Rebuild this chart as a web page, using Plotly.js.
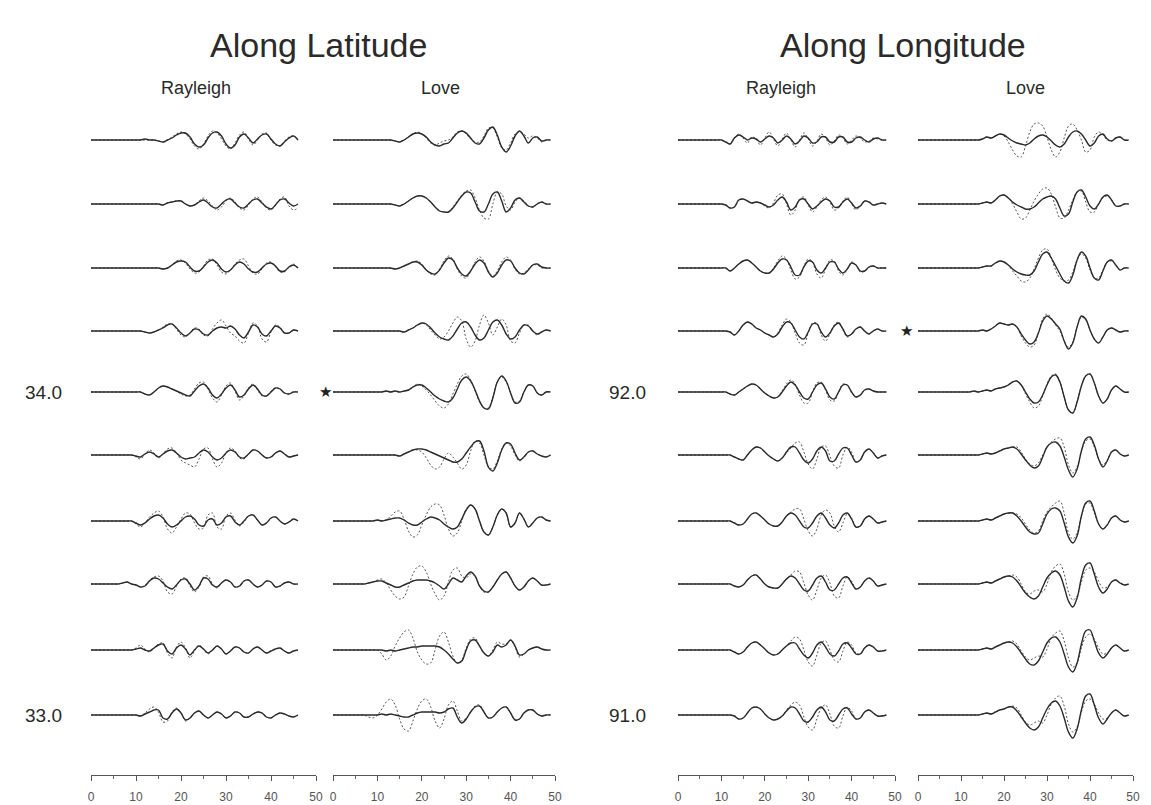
<!DOCTYPE html>
<html><head><meta charset="utf-8">
<script src="https://cdn.plot.ly/plotly-3.0.1.min.js"></script>
<style>html,body{margin:0;padding:0;background:#fff}#chart{width:1151px;height:805px}</style>
</head><body><div id="chart"></div>
<script>
// time axis (s)
const TIME_S = [0,1,2,3,4,5,6,7,8,9,10,11,12,13,14,15,16,17,18,19,20,21,22,23,24,25,26,27,28,29,30,31,32,33,34,35,36,37,38,39,40,41,42,43,44,45,46,47,48,49];

// Along latitude, Rayleigh: solid (observed) and dashed (synthetic), rows top to bottom
const LAT_RAYLEIGH_SOLID = [
[0,0,0,0,0,0,0,0,0,0,0,0,1,0,0,-1,-2,0,2,5,7,7,3,-4,-7,-5,2,7,8,4,-4,-8,-5,3,6,2,-3,1,5,6,1,-4,-6,-2,2,4,0],
[0,0,0,0,0,0,0,0,0,0,0,0,0,0,0,0,-1,1,2,3,3,0,-2,-1,2,4,1,-3,-4,0,4,5,1,-3,-4,0,4,5,1,-3,-5,-1,4,5,1,-2,0],
[0,0,0,0,0,0,0,0,0,0,0,0,0,0,0,0,-1,0,3,6,7,6,1,-3,-3,1,6,8,5,-1,-4,-2,3,6,4,-1,-4,-4,0,4,5,2,-3,-3,1,3,0],
[0,0,0,0,0,0,0,0,0,0,0,0,-1,-2,-1,1,3,6,7,3,-2,-5,-2,2,1,-3,-4,0,3,4,3,5,2,-4,-7,-1,6,4,-3,-5,0,5,3,-2,-2,1,0],
[0,0,0,0,0,0,0,0,0,0,0,0,-2,-3,0,4,6,5,3,1,-1,-3,-4,1,6,8,4,-3,-6,-2,4,7,2,-5,-3,3,7,3,-3,-4,0,4,3,-1,-2,0,0],
[0,0,0,0,0,0,0,0,0,0,-1,-2,1,3,1,-2,1,4,5,2,-2,-4,-3,-2,2,5,3,-2,-5,-3,2,5,3,-2,-3,1,5,4,0,-3,-2,2,4,1,-2,-1,0],
[0,0,0,0,0,0,0,0,0,0,-2,-4,-2,2,5,6,3,-3,-6,-4,0,4,5,2,-4,-5,1,2,-4,-2,4,5,-1,-4,0,5,6,1,-4,-2,3,4,0,-3,-1,2,0],
[0,0,0,0,0,0,0,1,2,0,-1,-3,-2,3,6,5,1,-3,-5,-1,4,5,0,-6,-2,6,5,-1,-3,1,4,2,-3,-2,3,4,0,-3,-1,3,2,-3,-2,1,2,0,0],
[0,0,0,0,0,0,0,0,0,0,1,2,0,-1,2,5,6,-1,-4,2,5,1,-5,0,4,1,-3,0,4,1,-4,-1,3,2,-2,-3,1,3,0,-3,-1,1,2,-1,-3,-1,0],
[0,0,0,0,0,0,0,0,0,0,0,-1,1,3,5,5,-3,-4,2,6,2,-5,-3,2,4,0,-3,0,3,1,-3,-1,3,2,-2,-2,1,3,2,-2,-3,0,2,1,-1,-2,0]
];
const LAT_RAYLEIGH_DASHED = [
[0,0,0,0,0,0,0,0,0,0,0,0,0,0,0,-1,-2,0,3,6,8,6,1,-6,-9,-4,4,9,7,1,-6,-9,-3,5,8,1,-5,0,6,7,0,-5,-6,-1,3,4,0],
[0,0,0,0,0,0,0,0,0,0,0,0,0,0,0,0,-1,1,2,3,3,0,-2,-1,3,6,3,-2,-6,-3,3,6,2,-4,-6,-1,5,7,2,-4,-6,-1,5,7,-2,-6,-4],
[0,0,0,0,0,0,0,0,0,0,0,0,0,0,0,0,-1,0,3,7,8,5,-1,-5,-4,2,8,9,3,-4,-6,-2,4,8,9,2,-5,-6,-1,5,6,1,-4,-4,1,4,0],
[0,0,0,0,0,0,0,0,0,0,0,0,-1,-2,-1,1,4,7,7,2,-4,-6,-2,3,2,-4,-5,2,8,11,5,-2,-5,-10,-12,-2,8,5,-8,-11,-1,6,4,-2,-2,1,0],
[0,0,0,0,0,0,0,0,0,0,0,0,-2,-3,0,4,6,5,3,1,-2,-4,-3,3,9,10,3,-6,-10,-3,6,9,1,-8,-4,4,8,2,-4,-4,1,4,3,-1,-2,0,0],
[0,0,0,0,0,0,0,0,0,0,-2,-4,1,5,2,-3,1,6,7,2,-5,-8,-10,-12,-4,6,7,-4,-12,-8,2,7,4,-3,-4,1,5,4,0,-3,-2,2,4,1,-2,-1,0],
[0,0,0,0,0,0,0,0,0,0,-3,-6,-2,4,8,10,4,-8,-12,-6,2,8,7,-2,-8,-7,6,8,-6,-8,5,8,1,-5,-1,5,6,1,-4,-2,3,4,0,-3,-1,2,0],
[0,0,0,0,0,0,0,1,2,0,-1,-3,-1,4,7,8,3,-8,-10,-2,5,6,-2,-8,-3,7,8,0,-4,1,4,2,-3,-2,3,4,0,-3,-1,3,2,-3,-2,1,2,0,0],
[0,0,0,0,0,0,0,0,0,0,2,5,1,-2,2,6,7,-3,-8,3,8,2,-8,-1,5,1,-4,0,4,1,-4,-1,3,2,-2,-3,1,3,0,-3,-1,1,2,-1,-3,-1,0],
[0,0,0,0,0,0,0,0,0,0,0,-1,2,6,8,3,-7,-6,3,7,2,-6,-3,2,4,0,-3,0,3,1,-3,-1,3,2,-2,-2,1,3,2,-2,-3,0,2,1,-1,-2,0]
];

// Along latitude, Love
const LAT_LOVE_SOLID = [
[0,0,0,0,0,0,0,0,0,0,0,0,0,0,-1,-2,0,3,6,7,6,3,-2,-5,-6,-4,-3,2,7,9,7,2,-3,-4,2,10,13,5,-7,-12,-6,4,9,4,-3,2,3,-1,0,0],
[0,0,0,0,0,0,0,0,0,0,0,0,0,0,-1,-2,0,3,6,8,8,6,2,-3,-7,-8,-8,-4,2,8,12,11,2,-7,-8,0,10,12,3,-8,-4,4,6,2,-2,-3,0,2,0,0],
[0,0,0,0,0,0,0,0,0,0,0,0,0,0,-1,0,2,4,6,6,3,-2,-5,-6,-2,5,10,8,0,-6,-8,-3,4,8,5,-4,-9,-5,3,8,7,0,-5,-6,-2,3,4,1,0,0],
[0,0,0,0,0,0,0,0,0,0,0,0,0,0,0,0,-1,1,3,6,8,7,3,-2,-6,-8,-9,-5,2,8,9,4,-4,-9,-7,1,9,11,6,-3,-8,-6,1,6,5,0,-3,-1,1,0],
[0,0,0,0,0,0,0,0,0,0,0,0,1,0,1,0,1,2,5,7,7,4,0,-4,-7,-9,-10,-6,3,12,15,11,2,-9,-16,-17,-6,10,16,11,-1,-11,-10,0,7,6,-1,-3,0,0],
[0,0,0,0,0,0,0,0,0,0,0,0,0,0,0,-1,1,3,5,6,6,5,3,1,-1,-3,-5,-7,-7,-4,2,8,13,14,4,-12,-16,-8,5,12,11,2,-5,-2,3,4,1,-1,-2,0],
[0,0,0,0,0,0,0,0,0,0,1,0,1,2,3,3,1,-2,-4,-4,-1,2,4,3,1,-3,-6,-8,-6,2,11,16,12,0,-11,-14,-6,6,12,8,-6,-2,8,2,-6,-2,3,4,1,0],
[0,0,0,0,0,0,0,0,1,2,3,3,1,-1,-3,-3,-1,1,3,4,4,4,3,1,-2,-5,0,6,4,2,8,12,8,-2,-7,-8,-3,4,10,12,6,-2,-6,-3,3,6,3,-1,-1,0],
[0,0,0,0,0,0,0,0,0,0,0,0,-1,0,-1,0,1,2,3,3,4,4,4,4,3,0,-4,-9,-13,-11,0,9,10,4,-3,-6,-2,5,3,5,10,4,-5,-4,0,2,3,1,0,0],
[0,0,0,0,0,0,0,0,0,0,0,1,0,1,0,-1,-2,-2,0,2,3,3,3,3,2,3,6,7,-2,-8,-4,3,8,9,3,-3,-2,3,7,8,2,-5,-4,2,5,5,1,-1,0,0]
];
const LAT_LOVE_DASHED = [
[0,0,0,0,0,0,0,0,0,0,0,0,0,0,-1,-2,0,3,6,8,6,2,-3,-5,-3,-1,0,3,8,9,6,1,-2,-2,4,12,12,3,-8,-10,-3,6,8,6,2,4,2,-2,0,0],
[0,0,0,0,0,0,0,0,0,0,0,0,0,0,-1,-2,0,3,6,8,8,6,2,-3,-7,-8,-8,-3,3,9,13,14,6,-6,-14,-15,0,12,10,-2,-6,2,6,3,-2,-3,0,2,0,0],
[0,0,0,0,0,0,0,0,0,0,0,0,0,0,-1,0,2,4,6,7,4,-2,-6,-7,-1,7,12,9,-1,-8,-10,-3,6,11,7,-3,-8,-3,6,11,8,-1,-6,-5,-1,3,3,0,0,0],
[0,0,0,0,0,0,0,0,0,0,0,0,0,0,0,0,-1,1,3,6,8,6,1,-4,-8,-6,0,8,14,10,-8,-16,-10,6,16,8,-4,4,12,6,-10,-12,-2,6,6,0,-4,-1,1,0],
[0,0,0,0,0,0,0,0,0,0,0,0,1,0,1,0,1,2,5,8,6,2,-3,-9,-14,-16,-12,-2,8,16,18,12,1,-10,-16,-16,-5,10,15,10,-1,-10,-9,0,7,6,-1,-3,0,0],
[0,0,0,0,0,0,0,0,0,0,0,0,0,0,0,-1,1,3,5,5,3,-3,-10,-14,-12,-4,2,-2,-8,-14,-10,4,14,12,0,-12,-14,-6,6,12,9,0,-6,-2,3,4,1,-1,-2,0],
[0,0,0,0,0,0,0,0,0,0,1,0,1,5,9,10,2,-10,-16,-14,-4,6,14,17,16,6,-8,-15,-12,0,12,16,12,0,-11,-14,-6,6,12,8,-6,-2,8,2,-6,-2,3,4,1,0],
[0,0,0,0,0,0,0,0,1,2,4,5,1,-6,-12,-15,-13,-2,10,17,18,12,0,-10,-16,-12,2,14,16,8,6,10,8,-2,-8,-8,-3,4,10,12,6,-2,-6,-3,3,6,3,-1,-1,0],
[0,0,0,0,0,0,0,0,0,0,0,-4,-10,-6,4,12,18,20,12,-2,-10,-14,-13,0,14,18,8,-6,-13,-10,2,11,12,4,-3,-6,0,8,6,6,10,3,-7,-4,0,2,3,1,0,0],
[0,0,0,0,0,0,0,0,-2,-3,0,6,13,16,10,-4,-14,-16,-6,6,14,16,8,-6,-13,-4,10,14,4,-6,-3,3,9,10,3,-3,-2,3,7,8,2,-5,-4,2,5,5,1,-1,0,0]
];

// Along longitude, Rayleigh
const LON_RAYLEIGH_SOLID = [
[0,0,0,0,0,0,0,0,0,0,0,-2,-4,2,5,3,0,2,1,-2,1,4,2,-3,0,4,1,-4,-1,4,2,-3,-2,3,3,-2,-2,3,3,-2,-2,2,3,0,-2,1,2,0,0],
[0,0,0,0,0,0,0,0,0,0,0,-1,-4,-3,4,5,3,1,2,1,-1,-3,-1,4,7,2,-6,-3,4,5,0,-5,-2,2,5,3,-3,-3,2,5,1,-4,-2,3,2,-1,0,1,0],
[0,0,0,0,0,0,0,0,0,0,0,0,-3,0,4,7,8,5,1,-3,-5,-5,-1,5,9,8,1,-7,-7,1,7,6,-2,-5,0,6,6,-1,-5,-1,5,3,-3,-3,1,2,0,0,0],
[0,0,0,0,0,0,0,0,0,0,0,0,-1,-4,0,6,9,7,3,1,-2,-4,-6,-3,4,9,8,1,-6,-8,-1,7,7,-1,-6,-2,5,8,2,-5,-3,2,4,0,-3,0,2,0,0],
[0,0,0,0,0,0,0,0,0,0,0,0,-2,-3,0,3,6,8,7,3,-1,-4,-6,-5,0,6,10,7,0,-6,-7,0,7,9,3,-5,-7,0,7,7,0,-5,-3,2,3,1,0,0,0],
[0,0,0,0,0,0,0,0,0,0,0,0,0,-2,-4,-5,0,5,8,7,3,-1,-4,-6,-3,3,8,8,2,-5,-8,-4,4,8,4,-6,-6,1,7,7,0,-7,-5,3,6,2,-3,-1,0],
[0,0,0,0,0,0,0,0,0,0,0,0,0,-2,-4,-3,2,7,8,5,1,-3,-5,-5,-1,5,8,6,0,-6,-7,-2,5,8,3,-4,-7,-2,6,8,2,-6,-5,2,5,2,-2,-1,0],
[0,0,0,0,0,0,0,0,0,0,0,0,0,-2,-3,-1,4,8,9,5,0,-3,-4,-4,0,5,8,6,0,-6,-7,-1,6,8,2,-6,-6,0,6,7,1,-5,-3,3,6,3,-2,-1,0],
[0,0,0,0,0,0,0,0,0,0,0,0,0,-2,-4,-2,3,7,8,5,1,-3,-5,-4,0,4,7,7,1,-5,-8,-3,5,8,3,-4,-6,-1,6,7,2,-4,-4,2,5,3,-1,-1,0],
[0,0,0,0,0,0,0,0,0,0,0,0,0,-1,-4,-3,2,7,8,6,1,-3,-5,-4,-1,4,8,7,1,-6,-7,-2,5,8,3,-5,-6,0,6,7,1,-4,-3,3,5,2,-1,-1,0]
];
const LON_RAYLEIGH_DASHED = [
[0,0,0,0,0,0,0,0,0,0,0,-2,-4,2,6,2,-3,3,1,-5,2,8,1,-6,1,7,0,-7,0,7,1,-6,-1,6,2,-5,-1,5,2,-4,0,4,2,-2,-1,2,1,0,0],
[0,0,0,0,0,0,0,0,0,0,0,-1,-4,-3,4,5,3,1,2,1,-2,-4,1,9,10,0,-11,-6,5,7,-1,-8,-3,4,7,2,-6,-4,3,7,0,-6,-2,3,2,-1,0,1,0],
[0,0,0,0,0,0,0,0,0,0,0,0,-3,0,4,7,8,5,1,-3,-5,-5,0,7,12,9,-2,-11,-9,2,9,6,-6,-10,-1,8,7,-3,-7,-1,6,3,-4,-3,1,2,0,0,0],
[0,0,0,0,0,0,0,0,0,0,0,0,-1,-4,0,6,9,7,3,1,-2,-4,-6,-2,6,12,9,-2,-12,-14,-2,8,8,-4,-10,-3,6,9,1,-6,-3,2,4,0,-3,0,2,0,0],
[0,0,0,0,0,0,0,0,0,0,0,0,-2,-3,0,3,6,8,7,3,-1,-4,-6,-5,1,8,12,8,-3,-11,-11,0,9,10,2,-8,-9,0,8,7,-1,-5,-3,2,3,1,0,0,0],
[0,0,0,0,0,0,0,0,0,0,0,0,0,-2,-4,-5,0,5,8,7,3,-1,-4,-6,-3,2,7,12,13,3,-9,-14,-4,8,9,-1,-11,-13,0,8,3,-7,-5,3,6,2,-3,-1,0],
[0,0,0,0,0,0,0,0,0,0,0,0,0,-2,-4,-3,2,7,8,5,1,-3,-5,-5,-1,5,9,12,12,2,-10,-15,-8,6,11,8,-5,-11,-2,7,3,-6,-5,2,5,2,-2,-1,0],
[0,0,0,0,0,0,0,0,0,0,0,0,0,-2,-3,-1,4,8,9,5,0,-3,-4,-4,0,5,9,13,12,1,-11,-16,-6,6,9,1,-12,-14,-2,7,3,-5,-3,3,6,3,-2,-1,0],
[0,0,0,0,0,0,0,0,0,0,0,0,0,-2,-4,-2,3,7,8,5,1,-3,-5,-4,0,4,9,13,11,0,-12,-16,-5,7,9,0,-10,-12,-1,8,5,-3,-4,2,5,3,-1,-1,0],
[0,0,0,0,0,0,0,0,0,0,0,0,0,-1,-4,-3,2,7,8,6,1,-3,-5,-4,-1,5,10,13,10,-2,-12,-15,-4,7,10,1,-11,-13,-1,8,4,-4,-3,3,5,2,-1,-1,0]
];

// Along longitude, Love
const LON_LOVE_SOLID = [
[0,0,0,0,0,0,0,0,0,0,0,0,0,0,0,1,3,2,4,6,5,2,-1,-3,-4,-5,-3,1,4,5,3,-1,-5,-7,-4,3,8,9,6,0,-6,-3,4,6,1,-1,2,3,0,0],
[0,0,0,0,0,0,0,0,0,0,0,0,0,0,0,1,2,1,4,8,9,6,2,-1,-3,-5,-5,-3,1,5,7,8,5,-4,-12,-10,2,12,14,7,-2,-5,0,7,9,4,-2,-2,0,0],
[0,0,0,0,0,0,0,0,0,0,0,0,0,0,0,1,2,2,5,7,6,3,-1,-4,-6,-7,-7,-3,6,14,16,10,2,-6,-13,-15,-7,8,16,12,0,-10,-12,-3,6,8,3,-2,0,0],
[0,0,0,0,0,0,0,0,0,0,0,0,0,0,0,1,0,2,5,8,7,6,7,4,-3,-9,-13,-11,-2,10,15,12,7,2,-10,-18,-12,4,15,12,1,-8,-12,-6,1,3,1,-1,0,0],
[0,0,0,0,0,0,0,0,0,0,0,0,0,1,0,1,2,1,3,4,5,7,10,11,7,0,-7,-11,-10,-3,7,15,17,10,-5,-18,-21,-10,6,16,18,9,-4,-11,-7,2,6,3,0,0],
[0,0,0,0,0,0,0,0,0,0,0,0,0,0,0,1,2,1,2,4,6,7,8,6,1,-5,-10,-13,-11,-2,8,12,13,9,-2,-15,-22,-14,4,16,18,10,-4,-12,-6,3,5,1,-1,0],
[0,0,0,0,0,0,0,0,0,0,0,0,0,0,0,1,2,1,3,5,7,8,8,5,0,-6,-11,-13,-12,-3,7,12,13,10,-2,-16,-22,-15,5,18,20,10,-3,-8,-4,3,5,1,-1,0],
[0,0,0,0,0,0,0,0,0,0,0,0,0,0,0,1,2,1,3,5,7,8,7,3,-3,-9,-13,-15,-12,-3,6,11,13,9,-3,-17,-23,-14,6,19,21,10,-3,-9,-5,2,4,1,-1,0],
[0,0,0,0,0,0,0,0,0,0,0,0,0,0,0,1,2,1,3,5,7,8,7,3,-3,-9,-14,-15,-11,-2,7,12,13,8,-4,-17,-22,-13,6,19,20,9,-3,-8,-4,2,5,2,-1,0],
[0,0,0,0,0,0,0,0,0,0,0,0,0,0,0,1,2,1,3,5,6,8,8,4,-2,-8,-13,-15,-12,-3,6,12,14,9,-3,-17,-23,-14,5,19,21,10,-3,-9,-4,2,5,2,-1,0]
];
const LON_LOVE_DASHED = [
[0,0,0,0,0,0,0,0,0,0,0,0,0,0,0,1,3,2,4,6,4,-2,-10,-16,-17,-6,8,16,17,14,3,-10,-17,-12,2,14,16,10,0,-12,-10,3,8,5,0,-1,2,3,0,0],
[0,0,0,0,0,0,0,0,0,0,0,0,0,0,0,1,2,1,4,8,9,6,0,-8,-15,-14,-6,3,10,15,16,10,-3,-14,-14,-6,4,12,13,2,-8,-8,0,6,8,4,-2,-2,0,0],
[0,0,0,0,0,0,0,0,0,0,0,0,0,0,0,1,2,2,5,7,6,3,-3,-8,-13,-14,-10,-1,10,18,19,10,-2,-10,-13,-12,-4,8,14,10,-2,-10,-10,-2,6,7,3,-2,0,0],
[0,0,0,0,0,0,0,0,0,0,0,0,0,0,0,1,0,2,5,8,7,6,7,4,-5,-12,-16,-14,-2,12,17,13,6,0,-10,-16,-11,4,14,11,1,-8,-12,-6,1,3,1,-1,0,0],
[0,0,0,0,0,0,0,0,0,0,0,0,0,1,0,1,2,1,3,4,5,7,10,11,7,-2,-10,-16,-14,-4,8,16,18,10,-5,-18,-21,-10,6,16,18,9,-4,-11,-7,2,6,3,0,0],
[0,0,0,0,0,0,0,0,0,0,0,0,0,0,0,1,2,1,2,4,6,7,8,8,3,-4,-9,-11,-8,0,8,13,16,17,8,-10,-18,-12,4,14,16,8,-4,-10,-5,3,5,1,-1,0],
[0,0,0,0,0,0,0,0,0,0,0,0,0,0,0,1,2,1,3,5,7,8,8,7,3,-3,-9,-12,-10,0,9,14,18,20,8,-12,-18,-12,5,17,18,8,-3,-8,-4,3,5,1,-1,0],
[0,0,0,0,0,0,0,0,0,0,0,0,0,0,0,1,2,1,3,5,7,8,9,7,0,-8,-10,-7,-6,-8,0,12,18,20,10,-8,-16,-12,2,14,16,12,3,-4,-3,2,4,1,-1,0],
[0,0,0,0,0,0,0,0,0,0,0,0,0,0,0,1,2,1,3,5,7,8,9,6,-1,-7,-10,-8,-6,-7,1,12,17,19,9,-8,-17,-13,2,13,16,11,2,-4,-3,2,5,2,-1,0],
[0,0,0,0,0,0,0,0,0,0,0,0,0,0,0,1,2,1,3,5,6,8,9,7,0,-7,-10,-8,-6,-8,0,11,17,19,9,-9,-17,-12,3,14,16,11,2,-4,-3,2,5,2,-1,0]
];

const X_TICKS = [0,10,20,30,40,50];
const GROUP_TITLES = ['Along Latitude','Along Longitude'];
const WAVE_TYPES = ['Rayleigh','Love','Rayleigh','Love'];
const ROW_LABELS_LAT = ['34.0','33.0'];
const ROW_LABELS_LON = ['92.0','91.0'];

// ---------- layout (pixel geometry) ----------
const W = 1151, H = 805;
const ROW_Y = [140,204,268,331,392,455,521,584,650,715];
const HALF = 32;
const PANELS = [
  {solid: LAT_RAYLEIGH_SOLID, dashed: LAT_RAYLEIGH_DASHED, x0: 91,  x1: 316},
  {solid: LAT_LOVE_SOLID,     dashed: LAT_LOVE_DASHED,     x0: 333, x1: 555},
  {solid: LON_RAYLEIGH_SOLID, dashed: LON_RAYLEIGH_DASHED, x0: 678, x1: 895},
  {solid: LON_LOVE_SOLID,     dashed: LON_LOVE_DASHED,     x0: 918, x1: 1133}
];
const AXIS_Y = 775;
const FONT = 'Liberation Sans, Arial, Helvetica, sans-serif';
const px = v => v / W;
const py = v => 1 - v / H;

const traces = [];
const layout = {
  width: W, height: H,
  margin: {l: 0, r: 0, t: 0, b: 0},
  paper_bgcolor: '#ffffff', plot_bgcolor: 'rgba(0,0,0,0)',
  showlegend: false,
  annotations: [],
  font: {family: FONT, color: '#333'}
};

PANELS.forEach((p, c) => {
  const xname = c === 0 ? 'x' : 'x' + (c + 1);
  const xkey = c === 0 ? 'xaxis' : 'xaxis' + (c + 1);
  layout[xkey] = {
    domain: [px(p.x0), px(p.x1)], range: [0, 50],
    anchor: 'free', position: py(AXIS_Y),
    showline: true, linecolor: '#555', linewidth: 1,
    ticks: 'outside', ticklen: 5, tickwidth: 1, tickcolor: '#555',
    tickvals: X_TICKS, ticktext: X_TICKS.map(String),
    ticklabelstandoff: 6,
    minor: {dtick: 5, ticks: 'outside', ticklen: 3, tickcolor: '#666', tickwidth: 1},
    tickfont: {family: FONT, size: 12, color: '#555'},
    showgrid: false, zeroline: false, fixedrange: true
  };
  for (let r = 0; r < 10; r++) {
    const yname = r === 0 ? 'y' : 'y' + (r + 1);
    const s = p.solid[r], d = p.dashed[r];
    traces.push({x: TIME_S.slice(0, d.length), y: d, xaxis: xname, yaxis: yname, type: 'scatter', mode: 'lines',
      line: {color: '#555', width: 1, dash: '2px,2px', shape: 'spline', smoothing: 1}, hoverinfo: 'skip'});
    traces.push({x: TIME_S.slice(0, s.length), y: s, xaxis: xname, yaxis: yname, type: 'scatter', mode: 'lines',
      line: {color: '#2a2a2a', width: 1.4, shape: 'spline', smoothing: 1}, hoverinfo: 'skip'});
  }
});
ROW_Y.forEach((y, r) => {
  const ykey = r === 0 ? 'yaxis' : 'yaxis' + (r + 1);
  layout[ykey] = {domain: [py(y + HALF), py(y - HALF)], range: [-HALF, HALF], visible: false, fixedrange: true, anchor: 'x'};
});

const ann = (text, x, y, size, extra) => Object.assign({text, x: px(x), y: py(y), xref: 'paper', yref: 'paper',
  xanchor: 'center', yanchor: 'middle', showarrow: false, font: {family: FONT, size, color: '#2a2a2a'}}, extra || {});
layout.annotations.push(ann(GROUP_TITLES[0], 318, 45, 34));
layout.annotations.push(ann(GROUP_TITLES[1], 903, 45, 34));
[196, 440, 781, 1025].forEach((x, i) => layout.annotations.push(ann(WAVE_TYPES[i], x, 88, 18)));
layout.annotations.push(ann(ROW_LABELS_LAT[0], 43, ROW_Y[4], 19));
layout.annotations.push(ann(ROW_LABELS_LAT[1], 43, ROW_Y[9], 19));
layout.annotations.push(ann(ROW_LABELS_LON[0], 627, ROW_Y[4], 19));
layout.annotations.push(ann(ROW_LABELS_LON[1], 627, ROW_Y[9], 19));
layout.annotations.push(ann('★', 325, ROW_Y[4], 15, {font: {family: 'DejaVu Sans', size: 15, color: '#222'}}));
layout.annotations.push(ann('★', 906, ROW_Y[3], 15, {font: {family: 'DejaVu Sans', size: 15, color: '#222'}}));

Plotly.newPlot('chart', traces, layout, {displayModeBar: false, staticPlot: true});
</script>
</body></html>
